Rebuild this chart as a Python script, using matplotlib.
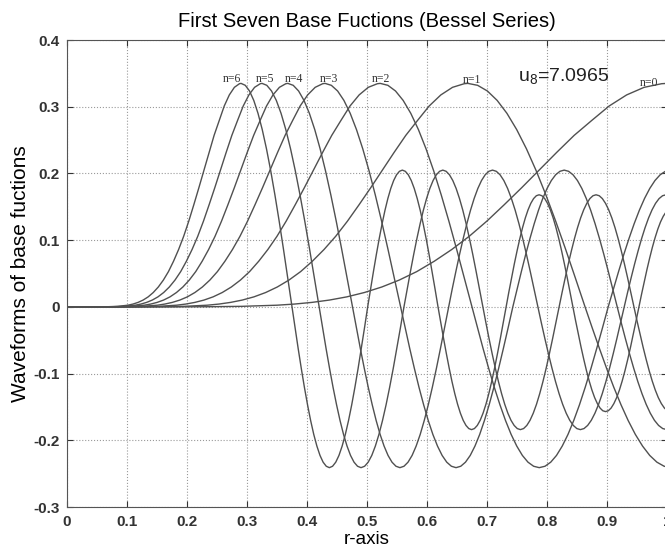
import numpy as np
import matplotlib
matplotlib.use("Agg")
import matplotlib.pyplot as plt

plt.rcParams['font.family'] = ['Liberation Sans', 'DejaVu Sans']
plt.rcParams['mathtext.fontset'] = 'custom'
plt.rcParams['mathtext.rm'] = 'Liberation Sans'
plt.rcParams['mathtext.it'] = 'Liberation Sans'

# common waveform of all seven curves:
# position relative to the first maximum (t) and the value there
shape_t = [
    # rise up to the first maximum
    0.0, 0.1166, 0.1749, 0.2332, 0.2914, 0.3497, 0.3789, 0.408, 0.4372, 0.4663,
    0.4955, 0.5246, 0.5537, 0.5829, 0.612, 0.6412, 0.6703, 0.6995, 0.7286, 0.7578,
    0.7869, 0.816, 0.8452, 0.8743, 0.9035, 0.9326, 0.9618, 0.9909,
    # first maximum -> first zero
    1.0, 1.0244, 1.0487, 1.0731, 1.0975, 1.1218, 1.1462, 1.1706, 1.1949, 1.2193, 1.2437, 1.268,
    1.2924, 1.3103, 1.3283, 1.3462, 1.3641, 1.3821, 1.4, 1.4179, 1.4359, 1.4538, 1.4717, 1.4897,
    # first minimum
    1.5076, 1.526, 1.5443, 1.5627, 1.581, 1.5994, 1.6177, 1.6361, 1.6544, 1.6728, 1.6911, 1.7095,
    1.7278, 1.7444, 1.761, 1.7776, 1.7942, 1.8108, 1.8274, 1.8439, 1.8605, 1.8771, 1.8937, 1.9103,
    # second maximum
    1.9269, 1.944, 1.9611, 1.9782, 1.9953, 2.0123, 2.0294, 2.0465, 2.0636, 2.0807, 2.0978, 2.1149,
    2.132, 2.1481, 2.1641, 2.1802, 2.1963, 2.2123, 2.2284, 2.2445, 2.2605, 2.2766, 2.2927, 2.3087,
    # second minimum
    2.3248, 2.3413, 2.3578, 2.3743, 2.3909, 2.4074, 2.4239, 2.4404, 2.4569, 2.4734, 2.49, 2.5065,
    2.523, 2.5388, 2.5546, 2.5704, 2.5863, 2.6021, 2.6179, 2.6337, 2.6495, 2.6653, 2.6812, 2.697,
    # third maximum
    2.7128, 2.729, 2.7452, 2.7613, 2.7775, 2.7937, 2.8099, 2.826, 2.8422, 2.8584, 2.8746, 2.8907,
    2.9069, 2.9225, 2.9382, 2.9538, 2.9695, 2.9851, 3.0007, 3.0164, 3.032, 3.0477, 3.0633, 3.0789,
    # third minimum
    3.0946, 3.1106, 3.1266, 3.1426, 3.1586, 3.1746, 3.1905, 3.2065, 3.2225, 3.2385, 3.2545, 3.2705,
    3.2864, 3.3019, 3.3175, 3.333, 3.3486, 3.3641, 3.3797, 3.3952, 3.4107, 3.4263, 3.4418, 3.4574,
    # fourth maximum
    3.473, 3.4889, 3.5047,
]
shape_y = [
    0.0, 0.0, 0.0, 0.0002, 0.0008, 0.0025, 0.0042, 0.0067, 0.0102, 0.015,
    0.0215, 0.0298, 0.0402, 0.0529, 0.0684, 0.086, 0.1058, 0.1284, 0.1531, 0.1787,
    0.205, 0.2315, 0.2571, 0.2793, 0.3011, 0.3177, 0.3291, 0.3345,
    0.335, 0.3321, 0.3236, 0.3095, 0.2901, 0.2658, 0.2369, 0.2039, 0.1675, 0.1282, 0.0867, 0.0437,
    0.0, -0.0315, -0.0624, -0.0922, -0.1205, -0.1467, -0.1704, -0.1912, -0.2087, -0.2227, -0.2328, -0.2389,
    -0.241, -0.2389, -0.2328, -0.2227, -0.2087, -0.1912, -0.1704, -0.1467, -0.1205, -0.0922, -0.0624, -0.0315,
    0.0, 0.0268, 0.0531, 0.0785, 0.1025, 0.1248, 0.145, 0.1626, 0.1775, 0.1894, 0.198, 0.2032,
    0.205, 0.2032, 0.198, 0.1894, 0.1775, 0.1626, 0.145, 0.1248, 0.1025, 0.0785, 0.0531, 0.0268,
    0.0, -0.024, -0.0476, -0.0704, -0.092, -0.112, -0.1301, -0.146, -0.1593, -0.17, -0.1777, -0.1824,
    -0.184, -0.1824, -0.1777, -0.17, -0.1593, -0.146, -0.1301, -0.112, -0.092, -0.0704, -0.0476, -0.024,
    0.0, 0.0219, 0.0435, 0.0643, 0.084, 0.1023, 0.1188, 0.1333, 0.1455, 0.1552, 0.1623, 0.1666,
    0.168, 0.1666, 0.1623, 0.1552, 0.1455, 0.1333, 0.1188, 0.1023, 0.084, 0.0643, 0.0435, 0.0219,
    0.0, -0.0205, -0.0406, -0.0601, -0.0785, -0.0956, -0.111, -0.1246, -0.136, -0.145, -0.1517, -0.1557,
    -0.157, -0.1557, -0.1517, -0.145, -0.136, -0.1246, -0.111, -0.0956, -0.0785, -0.0601, -0.0406, -0.0205,
    0.0, 0.0192, 0.038, 0.0563, 0.0735, 0.0895, 0.1039, 0.1166, 0.1273, 0.1358, 0.142, 0.1457,
    0.147, 0.1457, 0.142,
]

# r position of the first maximum of each base function n=0..6
orders = [0, 1, 2, 3, 4, 5, 6]
peak_r = [1.0, 0.668, 0.522, 0.43, 0.368, 0.325, 0.29]
label_r = [0.97, 0.675, 0.523, 0.437, 0.378, 0.33, 0.275]
label_y = [0.331, 0.335, 0.337, 0.337, 0.337, 0.337, 0.337]

xticks = [0, 0.1, 0.2, 0.3, 0.4, 0.5, 0.6, 0.7, 0.8, 0.9, 1.0]
xticklabels = ['0', '0.1', '0.2', '0.3', '0.4', '0.5', '0.6', '0.7', '0.8', '0.9', '1']
yticks = [-0.3, -0.2, -0.1, 0, 0.1, 0.2, 0.3, 0.4]
yticklabels = ['-0.3', '-0.2', '-0.1', '0', '0.1', '0.2', '0.3', '0.4']

fig = plt.figure(figsize=(6.65, 5.52), dpi=100)
ax = fig.add_axes([0.1008, 0.0815, 0.9023, 0.846])

t = np.array(shape_t)
y = np.array(shape_y)
for n, p in zip(orders, peak_r):
    ax.plot(t * p, y, color='#505050', lw=1.0)

for n, xr, yr in zip(orders, label_r, label_y):
    ax.text(xr, yr, f"n={n}", family='Liberation Serif', fontsize=8.5,
            ha='center', va='baseline', color='#333333')

ax.text(0.752, 0.338, r'$\mathrm{u_8}$=7.0965', fontsize=14, ha='left', va='baseline',
        color='#222222')

ax.set_xlim(0, 1)
ax.set_ylim(-0.3, 0.4)
ax.set_xticks(xticks)
ax.set_xticklabels(xticklabels)
ax.set_yticks(yticks)
ax.set_yticklabels(yticklabels)
ax.tick_params(direction='in', length=4, top=True, right=True, labelsize=11, colors='#333333')
ax.tick_params(axis='x', pad=5.5)
ax.tick_params(axis='y', pad=5)
for lab in ax.get_xticklabels() + ax.get_yticklabels():
    lab.set_fontweight('bold')
ax.grid(True, linestyle=':', color='#9a9a9a', lw=0.8)
for s in ax.spines.values():
    s.set_color('#555555')

ax.set_title('First Seven Base Fuctions (Bessel Series)', fontsize=14.5, pad=9.5)
ax.set_xlabel('r-axis', fontsize=13.5, labelpad=2)
ax.set_ylabel('Waveforms of base fuctions', fontsize=15, labelpad=3)

fig.savefig('out.png', dpi=100)
